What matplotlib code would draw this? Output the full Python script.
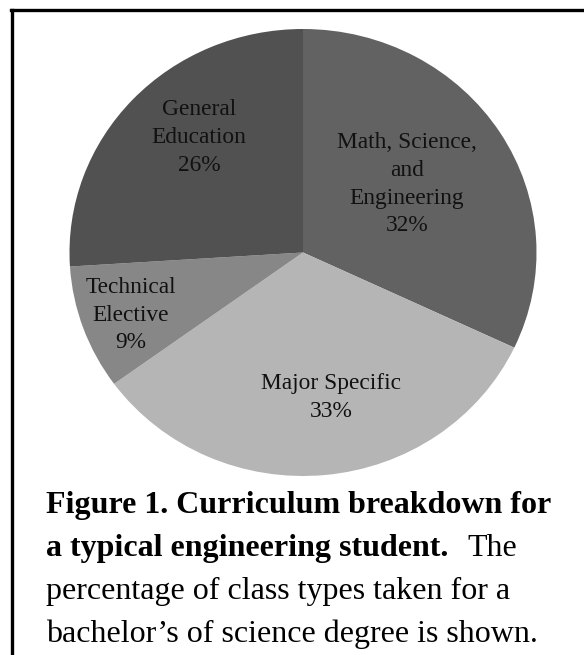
import numpy as np
import matplotlib
matplotlib.use("Agg")
import matplotlib.pyplot as plt
from matplotlib.lines import Line2D

# data
categories = ["Math, Science,\nand\nEngineering", "Major Specific", "Technical\nElective", "General\nEducation"]
shares = [32, 33, 9, 26]
colors = ["#626262", "#b5b5b5", "#878787", "#515151"]

# label placement: fraction of radius, and turn away from the wedge middle (deg)
label_dist = [0.54, 0.66, 0.79, 0.68]
label_turn = [2, 5, 1, -6]

plt.rcParams["font.family"] = ["Liberation Serif", "DejaVu Serif"]

W, H = 584, 655
fig = plt.figure(figsize=(W / 100, H / 100), dpi=100)

# pie axes, slightly wider than tall like the source
left, right, top, bottom = 69.5, 536.5, 29, 476
ax = fig.add_axes([left / W, (H - bottom) / H, (right - left) / W, (bottom - top) / H])
wedges, texts = ax.pie(shares, colors=colors, startangle=90, counterclock=False,
                       radius=1, labels=None, wedgeprops=dict(linewidth=0))
ax.set_aspect("auto")
ax.set_xlim(-1, 1)
ax.set_ylim(-1, 1)
ax.axis("off")

for w, name, val, d, turn in zip(wedges, categories, shares, label_dist, label_turn):
    mid = np.deg2rad((w.theta1 + w.theta2) / 2 + turn)
    ax.text(d * np.cos(mid), d * np.sin(mid), f"{name}\n{val}%", ha="center", va="center",
            fontsize=16.8, linespacing=1.42, color="#111111")

# border (top and left only)
fig.add_artist(Line2D([11 / W, 1], [1 - 9.5 / H] * 2, color="black", lw=2.4))
fig.add_artist(Line2D([12 / W] * 2, [1 - 9.5 / H, 0], color="black", lw=2.4))

# caption
x0 = 46 / W
base = [513, 556, 599, 642]
fs = 23
fig.text(x0, 1 - base[0] / H, "Figure 1. Curriculum breakdown for", fontsize=fs,
         fontweight="bold", va="baseline")
t2 = fig.text(x0, 1 - base[1] / H, "a typical engineering student.", fontsize=fs,
              fontweight="bold", va="baseline")
fig.text(x0, 1 - base[2] / H, "percentage of class types taken for a", fontsize=fs, va="baseline")
fig.text(x0, 1 - base[3] / H, "bachelor\u2019s of science degree is shown.", fontsize=fs, va="baseline")

fig.canvas.draw()
bb = t2.get_window_extent()
fig.text((bb.x1 + 19) / W, 1 - base[1] / H, "The", fontsize=fs, va="baseline")

fig.savefig("out.png", dpi=100)
